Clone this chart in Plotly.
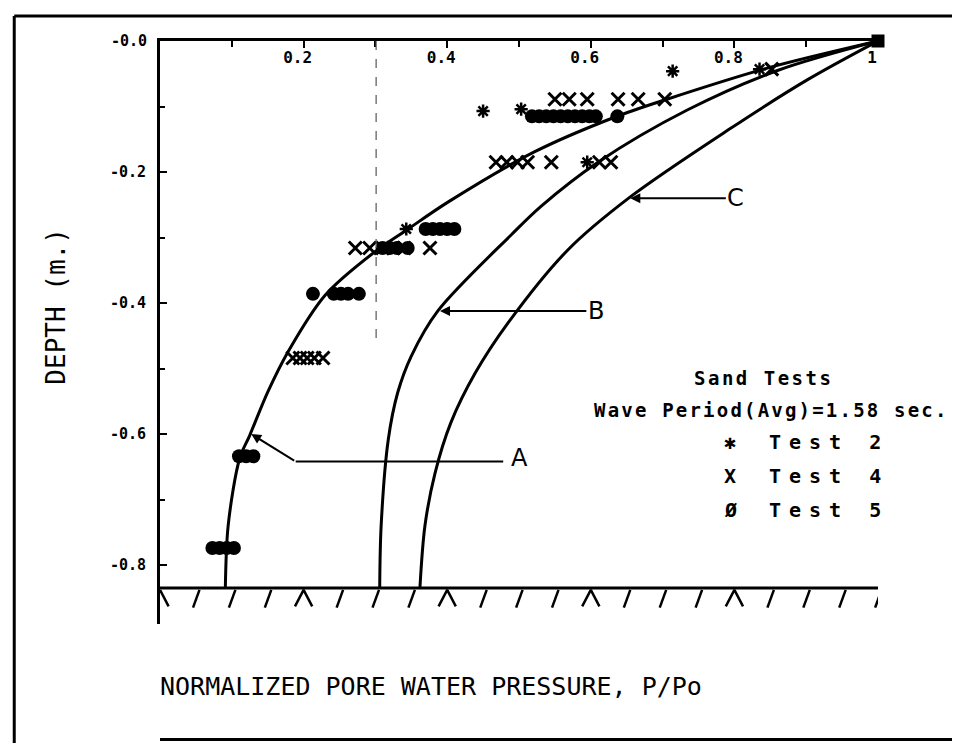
import plotly.graph_objects as go

# ---------------- data ----------------
# theoretical curves (x = P/Po, y = depth in m)
curveA_x = [1.0, 0.847, 0.703, 0.634, 0.522, 0.401, 0.343, 0.299, 0.230, 0.178, 0.150, 0.125, 0.111, 0.095, 0.091]
curveA_y = [0.0, -0.041, -0.090, -0.116, -0.169, -0.246, -0.289, -0.322, -0.388, -0.475, -0.536, -0.602, -0.637, -0.739, -0.835]
curveB_x = [1.0, 0.86, 0.735, 0.610, 0.531, 0.490, 0.387, 0.350, 0.331, 0.318, 0.308, 0.306]
curveB_y = [0.0, -0.045, -0.105, -0.185, -0.252, -0.295, -0.412, -0.481, -0.537, -0.608, -0.740, -0.835]
curveC_x = [1.0, 0.902, 0.791, 0.655, 0.568, 0.485, 0.439, 0.405, 0.383, 0.369, 0.362]
curveC_y = [0.0, -0.059, -0.136, -0.238, -0.319, -0.430, -0.507, -0.583, -0.660, -0.740, -0.835]

# measured points
test2_x = [0.714, 0.835, 0.450, 0.503, 0.595, 0.343]
test2_y = [-0.046, -0.043, -0.107, -0.104, -0.185, -0.287]

test4_x = [0.852,
           0.550, 0.570, 0.595, 0.638, 0.666, 0.703,
           0.468, 0.483, 0.498, 0.512, 0.545, 0.612, 0.628,
           0.272, 0.292, 0.310, 0.325, 0.340, 0.376,
           0.185, 0.195, 0.205, 0.215, 0.227]
test4_y = [-0.043,
           -0.089, -0.089, -0.089, -0.089, -0.089, -0.089,
           -0.185, -0.185, -0.185, -0.185, -0.185, -0.185, -0.185,
           -0.316, -0.316, -0.316, -0.316, -0.316, -0.316,
           -0.484, -0.484, -0.484, -0.484, -0.484]

test5_x = [0.518, 0.528, 0.538, 0.548, 0.558, 0.568, 0.578, 0.588, 0.598, 0.607, 0.637,
           0.370, 0.380, 0.390, 0.400, 0.410,
           0.310, 0.320, 0.330, 0.345,
           0.213, 0.242, 0.252, 0.262, 0.277,
           0.110, 0.120, 0.130,
           0.073, 0.083, 0.093, 0.103]
test5_y = [-0.115] * 11 + [-0.287] * 5 + [-0.316] * 4 + [-0.386] * 5 + [-0.634] * 3 + [-0.774] * 4

surface_x = [1.0]
surface_y = [0.0]

x_tickvals = [0.2, 0.4, 0.6, 0.8, 1.0]
x_ticktext = ["0.2", "0.4", "0.6", "0.8", "1"]
y_tickvals = [-0.2, -0.4, -0.6, -0.8]
y_ticktext = ["-0.2", "-0.4", "-0.6", "-0.8"]
y_top_label = "-0.0"

legend_rows = [("\u2731", "Test 2"), ("X", "Test 4"), ("\u00d8", "Test 5")]

GROUND = -0.835
MONO = "DejaVu Sans Mono"


def spaced(txt, px):
    return '<span style="letter-spacing:%spx">%s</span>' % (px, txt)


fig = go.Figure()

# curves
for cx, cy in [(curveA_x, curveA_y), (curveB_x, curveB_y), (curveC_x, curveC_y)]:
    fig.add_trace(go.Scatter(x=cx, y=cy, mode="lines",
                             line=dict(color="black", width=3, shape="spline", smoothing=0.9),
                             hoverinfo="skip", showlegend=False))

# ground hatching
hx, hy = [], []
i = 1
while i <= 20:
    p = i * 0.05
    if i % 4 == 0 and i < 20:
        hx += [p - 0.012, p, p + 0.012, None]
        hy += [GROUND - 0.028, GROUND - 0.003, GROUND - 0.028, None]
    else:
        hx += [p + 0.005, p - 0.004, None]
        hy += [GROUND - 0.003, GROUND - 0.030, None]
    i += 1
hx += [0.0, 0.012, None]
hy += [GROUND - 0.003, GROUND - 0.028, None]
fig.add_trace(go.Scatter(x=hx, y=hy, mode="lines", line=dict(color="black", width=2.5),
                         hoverinfo="skip", showlegend=False, cliponaxis=False))

# measured data
fig.add_trace(go.Scatter(x=test5_x, y=test5_y, mode="markers", name="Test 5",
                         marker=dict(symbol="circle", size=14, color="black", line=dict(width=0)),
                         showlegend=False, cliponaxis=False))
fig.add_trace(go.Scatter(x=test4_x, y=test4_y, mode="markers", name="Test 4",
                         marker=dict(symbol="x-thin-open", size=13, color="black", line=dict(width=3, color="black")),
                         showlegend=False, cliponaxis=False))
fig.add_trace(go.Scatter(x=test2_x, y=test2_y, mode="markers", name="Test 2",
                         marker=dict(symbol="asterisk-open", size=11, color="black", line=dict(width=2.5, color="black")),
                         showlegend=False, cliponaxis=False))
fig.add_trace(go.Scatter(x=surface_x, y=surface_y, mode="markers",
                         marker=dict(symbol="square", size=13, color="black"),
                         showlegend=False, cliponaxis=False))

shapes = [
    # ground line
    dict(type="line", xref="x", yref="y", x0=0, x1=1, y0=GROUND, y1=GROUND, line=dict(color="black", width=3)),
    # dashed reference line
    dict(type="line", xref="x", yref="y", x0=0.301, x1=0.301, y0=0, y1=-0.46,
         line=dict(color="#555555", width=1.2, dash="dash")),
    # leader line for A
    dict(type="line", xref="x", yref="y", x0=0.478, x1=0.189, y0=-0.642, y1=-0.642, line=dict(color="black", width=2)),
    # page frame
    dict(type="line", xref="paper", yref="paper", x0=-0.203, x1=1.13, y0=1.043, y1=1.043, line=dict(color="black", width=3)),
    dict(type="line", xref="paper", yref="paper", x0=-0.203, x1=-0.203, y0=1.043, y1=-0.24, line=dict(color="black", width=3)),
    dict(type="line", xref="paper", yref="paper", x0=0.0, x1=1.13, y0=-0.198, y1=-0.198, line=dict(color="black", width=3)),
]

annotations = [
    dict(x=-0.016, y=0.0, xref="paper", yref="y", text=y_top_label, showarrow=False, xanchor="right",
         font=dict(family=MONO, size=15, color="black", weight="bold")),
    dict(x=0.501, y=-0.637, xref="x", yref="y", text="A", showarrow=False,
         font=dict(family="DejaVu Sans", size=24, color="black")),
    dict(x=0.127, y=-0.600, xref="x", yref="y", ax=0.189, ay=-0.642, axref="x", ayref="y", text="",
         showarrow=True, arrowhead=2, arrowsize=1, arrowwidth=2, arrowcolor="black"),
    dict(x=0.39, y=-0.412, xref="x", yref="y", ax=0.607, ay=-0.412, axref="x", ayref="y", text="B",
         showarrow=True, arrowhead=2, arrowsize=1, arrowwidth=2, arrowcolor="black",
         font=dict(family="DejaVu Sans", size=24, color="black")),
    dict(x=0.655, y=-0.240, xref="x", yref="y", ax=0.802, ay=-0.240, axref="x", ayref="y", text="C",
         showarrow=True, arrowhead=2, arrowsize=1, arrowwidth=2, arrowcolor="black",
         font=dict(family="DejaVu Sans", size=24, color="black")),
    # legend block
    dict(x=0.841, y=-0.515, xref="x", yref="y", text=spaced("Sand Tests", 2.5), showarrow=False,
         font=dict(family=MONO, size=19, color="black", weight="bold")),
    dict(x=0.851, y=-0.563, xref="x", yref="y", text=spaced("Wave Period(Avg)=1.58 sec.", 2.2), showarrow=False,
         font=dict(family=MONO, size=19, color="black", weight="bold")),
    # axis titles
    dict(x=0.378, y=-0.135, xref="paper", yref="paper", text="NORMALIZED PORE WATER PRESSURE, P/Po", showarrow=False,
         font=dict(family=MONO, size=25, color="black")),
    dict(x=-0.168, y=0.545, xref="paper", yref="paper", text="DEPTH (m.)", showarrow=False, textangle=-90,
         font=dict(family=MONO, size=26, color="black")),
]
row_y = [-0.612, -0.664, -0.716]
for (sym, lab), ry in zip(legend_rows, row_y):
    annotations.append(dict(x=0.794, y=ry, xref="x", yref="y", text=sym, showarrow=False,
                            font=dict(family=MONO, size=20, color="black", weight="bold")))
    annotations.append(dict(x=0.845, y=ry, xref="x", yref="y", text=spaced(lab, 8), showarrow=False, xanchor="left",
                            font=dict(family=MONO, size=20, color="black", weight="bold")))

fig.update_layout(
    width=960, height=743,
    margin=dict(l=152, r=90, t=33, b=127),
    paper_bgcolor="white", plot_bgcolor="white",
    shapes=shapes, annotations=annotations,
    xaxis=dict(range=[0, 1], side="top", showgrid=False, zeroline=False,
               showline=True, linecolor="black", linewidth=3,
               tickvals=x_tickvals, ticktext=x_ticktext, ticks="inside", ticklen=7, tickwidth=2, tickcolor="black",
               ticklabelposition="inside", ticklabelshift=-6, ticklabelstandoff=4,
               minor=dict(dtick=0.1, tick0=0, ticks="inside", ticklen=6, tickwidth=2, tickcolor="black"),
               tickfont=dict(family=MONO, size=16, color="black", weight="bold")),
    yaxis=dict(range=[-0.89, 0.0], showgrid=False, zeroline=False,
               showline=True, linecolor="black", linewidth=3,
               tickvals=y_tickvals, ticktext=y_ticktext, ticks="inside", ticklen=7, tickwidth=2, tickcolor="black",
               minor=dict(dtick=0.1, tick0=0, ticks="inside", ticklen=5, tickwidth=2, tickcolor="black"),
               ticklabelstandoff=8,
               tickfont=dict(family=MONO, size=15, color="black", weight="bold")),
)

fig.write_html("out.html")
